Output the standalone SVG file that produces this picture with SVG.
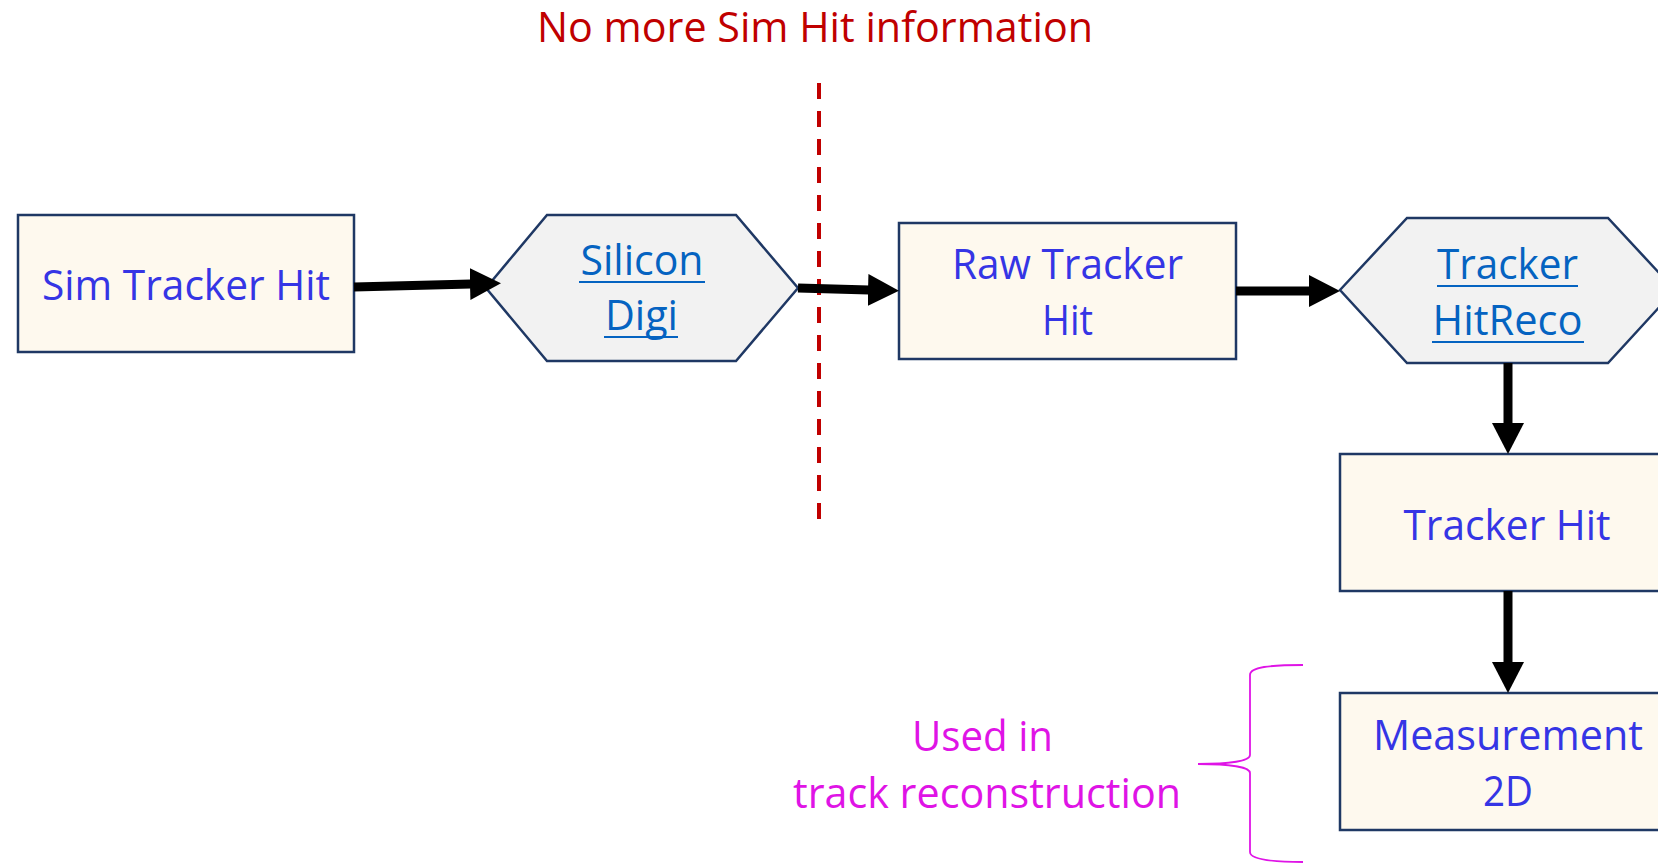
<svg xmlns="http://www.w3.org/2000/svg" width="1658" height="863" viewBox="0 0 1658 863">
  <style>
    .box { fill: #FEF9EE; stroke: #1F3864; stroke-width: 2.5; }
    .hex { fill: #F2F2F2; stroke: #1F3864; stroke-width: 2.5; stroke-linejoin: miter; }
    .lbl { font-family: "Open Sans", "Noto Sans", sans-serif; font-size: 42px; fill: #3535E5; text-anchor: middle; }
    .link { font-family: "Open Sans", "Noto Sans", sans-serif; font-size: 42px; fill: #0563C1; text-anchor: middle; }
    .uline { stroke: #0563C1; stroke-width: 2; }
    .note { font-family: "Open Sans", "Noto Sans", sans-serif; font-size: 42px; fill: #DF14E6; text-anchor: middle; }
    .title { font-family: "Open Sans", "Noto Sans", sans-serif; font-size: 42px; fill: #C00000; text-anchor: middle; }
    .conn { fill: none; stroke: #000000; stroke-width: 9; marker-end: url(#head); }
  </style>
  <defs>
    <marker id="head" markerUnits="userSpaceOnUse" viewBox="0 0 31 32" refX="1" refY="16" markerWidth="31" markerHeight="32" orient="auto">
      <path d="M0,0 L31,16 L0,32 Z" fill="#000000"/>
    </marker>
  </defs>

  <!-- heading -->
  <text class="title" x="815" y="42" textLength="556" lengthAdjust="spacingAndGlyphs">No more Sim Hit information</text>

  <!-- dashed boundary -->
  <line x1="819" y1="83" x2="819" y2="519" stroke="#C00000" stroke-width="4" stroke-dasharray="16 12"/>

  <g id="sim-tracker-hit">
    <rect class="box" x="18" y="215" width="336" height="137"/>
    <text class="lbl" x="186" y="300" textLength="288" lengthAdjust="spacingAndGlyphs">Sim Tracker Hit</text>
  </g>

  <g id="silicon-digi">
    <polygon class="hex" points="486,288 547,215 736,215 798,288 736,361 547,361"/>
    <text class="link" x="642" y="275" textLength="123" lengthAdjust="spacingAndGlyphs">Silicon</text>
    <line class="uline" x1="579" y1="282" x2="705" y2="282"/>
    <text class="link" x="641.5" y="330" textLength="73" lengthAdjust="spacingAndGlyphs">Digi</text>
    <line class="uline" x1="604" y1="337" x2="678" y2="337"/>
  </g>

  <g id="raw-tracker-hit">
    <rect class="box" x="899" y="223" width="337" height="136"/>
    <text class="lbl" x="1067.5" y="279" textLength="231" lengthAdjust="spacingAndGlyphs">Raw Tracker</text>
    <text class="lbl" x="1067.5" y="335" textLength="51" lengthAdjust="spacingAndGlyphs">Hit</text>
  </g>

  <g id="tracker-hitreco">
    <polygon class="hex" points="1340,290 1407,218 1608,218 1675,290 1608,363 1407,363"/>
    <text class="link" x="1507.5" y="279" textLength="141" lengthAdjust="spacingAndGlyphs">Tracker</text>
    <line class="uline" x1="1437" y1="286" x2="1578" y2="286"/>
    <text class="link" x="1507.5" y="335" textLength="150" lengthAdjust="spacingAndGlyphs">HitReco</text>
    <line class="uline" x1="1432" y1="342" x2="1584" y2="342"/>
  </g>

  <g id="tracker-hit">
    <rect class="box" x="1340" y="454" width="340" height="137"/>
    <text class="lbl" x="1507" y="540" textLength="207" lengthAdjust="spacingAndGlyphs">Tracker Hit</text>
  </g>

  <g id="measurement-2d">
    <rect class="box" x="1340" y="693" width="340" height="137"/>
    <text class="lbl" x="1508" y="750" textLength="270" lengthAdjust="spacingAndGlyphs">Measurement</text>
    <text class="lbl" x="1508" y="806" textLength="50" lengthAdjust="spacingAndGlyphs">2D</text>
  </g>

  <g id="reco-note">
    <text class="note" x="982.5" y="751" textLength="141" lengthAdjust="spacingAndGlyphs">Used in</text>
    <text class="note" x="987" y="808" textLength="388" lengthAdjust="spacingAndGlyphs">track reconstruction</text>
    <path d="M1303,665 C1270,665 1250,667 1250,675 L1250,755 C1250,761 1230,764 1198,764 C1230,764 1250,767 1250,773 L1250,852 C1250,859 1270,862 1303,862" fill="none" stroke="#DF14E6" stroke-width="1.8"/>
  </g>

  <g id="connectors">
    <path class="conn" d="M354,287 L471,284"/>
    <path class="conn" d="M798,288 L869,290"/>
    <path class="conn" d="M1236,291 L1310,291"/>
    <path class="conn" d="M1508,363 L1508,424"/>
    <path class="conn" d="M1508,591 L1508,663"/>
  </g>
</svg>
